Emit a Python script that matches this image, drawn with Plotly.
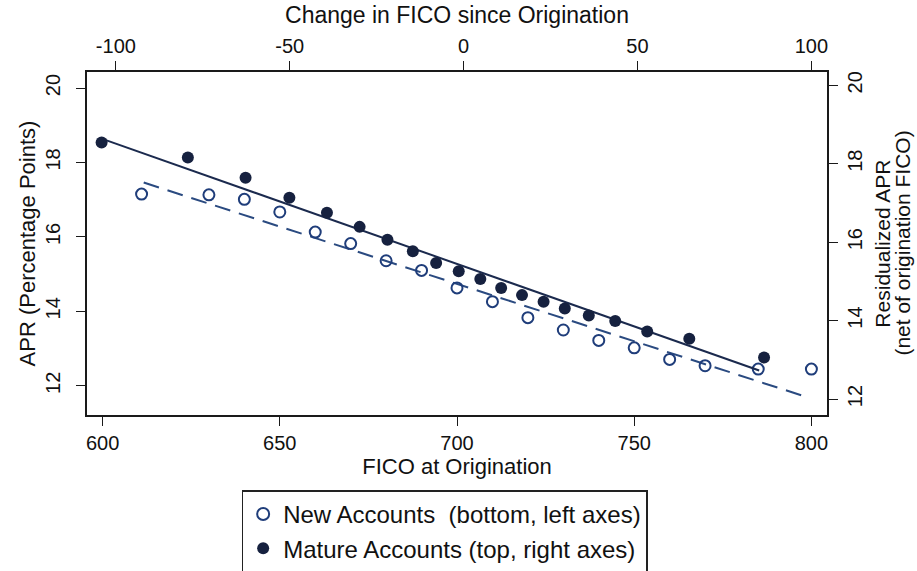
import plotly.graph_objects as go

# New accounts: FICO at origination vs APR (bottom / left axes)
new_fico = [611, 630, 640, 650, 660, 670, 680, 690, 700, 710, 720, 730, 740,
            750, 760, 770, 785, 800]
new_apr = [17.15, 17.13, 17.01, 16.67, 16.13, 15.82, 15.36, 15.10, 14.63,
           14.26, 13.83, 13.50, 13.22, 13.02, 12.71, 12.54, 12.45, 12.45]

# Mature accounts: change in FICO vs residualized APR (top / right axes)
mature_change = [-104.1, -79.3, -62.7, -50.1, -39.3, -29.9, -21.9, -14.6,
                 -7.9, -1.4, 4.8, 10.8, 16.8, 23.0, 29.1, 36.0, 43.6, 52.8,
                 64.9, 86.4]
mature_apr = [18.54, 18.16, 17.64, 17.13, 16.75, 16.39, 16.06, 15.77, 15.47,
              15.26, 15.06, 14.83, 14.65, 14.48, 14.31, 14.13, 13.99, 13.72,
              13.54, 13.06]

# Linear fit end points
new_fit_fico = [611.6, 798.3]
new_fit_apr = [17.46, 11.71]
mature_fit_change = [-103.5, 85.0]
mature_fit_apr = [18.62, 12.73]

bottom_ticks = [600, 650, 700, 750, 800]
top_ticks = [-100, -50, 0, 50, 100]
top_tick_text = ["-100", "-50", "0", "50", "100"]
apr_ticks = [12, 14, 16, 18, 20]
right_title_lines = ["Residualized APR", "(net of origination FICO)"]

FONT = "Liberation Sans, Arial, Helvetica, sans-serif"
INK = "#111111"
AXIS = "#1a1a1a"
HOLLOW = "#1f3d7a"
FILLED = "#16213f"

fig = go.Figure()

fig.add_trace(go.Scatter(
    x=new_fit_fico, y=new_fit_apr, mode="lines", xaxis="x", yaxis="y",
    line=dict(color="#2a4a80", width=2, dash="16px,9px"), showlegend=False,
    hoverinfo="skip"))
fig.add_trace(go.Scatter(
    x=mature_fit_change, y=mature_fit_apr, mode="lines", xaxis="x2", yaxis="y2",
    line=dict(color="#1b2a4e", width=2), showlegend=False, hoverinfo="skip"))

fig.add_trace(go.Scatter(
    x=new_fico, y=new_apr, mode="markers", xaxis="x", yaxis="y",
    name="New Accounts\u00a0 (bottom, left axes)",
    marker=dict(symbol="circle-open", size=11, color=HOLLOW,
                line=dict(width=2, color=HOLLOW))))
fig.add_trace(go.Scatter(
    x=mature_change, y=mature_apr, mode="markers", xaxis="x2", yaxis="y2",
    name="Mature Accounts (top, right axes)",
    marker=dict(symbol="circle", size=12, color=FILLED)))

tick_font = dict(family=FONT, size=20, color=INK)

axis_common = dict(showgrid=False, zeroline=False, showline=True,
                   linecolor=AXIS, linewidth=1.5, ticks="outside", ticklen=9,
                   tickwidth=1.3, tickcolor=AXIS, tickfont=tick_font)

# Two-line right-hand axis title, set tightly beside the right tick labels
for xpos, line in zip([1.0745, 1.1015], right_title_lines):
    fig.add_annotation(text=line, xref="paper", yref="paper", x=xpos, y=0.5,
                       xanchor="center", yanchor="middle", textangle=-90,
                       showarrow=False,
                       font=dict(family=FONT, size=21, color=INK))

fig.update_layout(
    width=917, height=571,
    margin=dict(l=87, r=90, t=72, b=156, autoexpand=False),
    paper_bgcolor="white", plot_bgcolor="white",
    font=dict(family=FONT, color=INK),
    xaxis=dict(range=[595.6, 804.4], tickvals=bottom_ticks,
               title=dict(text="FICO at Origination",
                          font=dict(family=FONT, size=22, color=INK),
                          standoff=5),
               **axis_common),
    xaxis2=dict(range=[-108.3, 104.5], tickvals=top_ticks,
                ticktext=top_tick_text, overlaying="x", side="top",
                anchor="y",
                title=dict(text="Change in FICO since Origination",
                           font=dict(family=FONT, size=23, color=INK),
                           standoff=5),
                **axis_common),
    yaxis=dict(range=[11.216, 20.43], tickvals=apr_ticks, tickangle=-90,
               ticklabelstandoff=8,
               title=dict(text="APR (Percentage Points)",
                          font=dict(family=FONT, size=22, color=INK),
                          standoff=1),
               **axis_common),
    yaxis2=dict(range=[11.594, 20.338], tickvals=apr_ticks, tickangle=-90,
                ticklabelstandoff=0, overlaying="y", side="right", anchor="x",
                **axis_common),
    legend=dict(x=0.209, y=-0.22, xanchor="left", yanchor="top",
                bordercolor="#222222", borderwidth=1.5, bgcolor="white",
                font=dict(family=FONT, size=24, color=INK),
                itemsizing="constant"),
)

fig.write_html("out.html")
